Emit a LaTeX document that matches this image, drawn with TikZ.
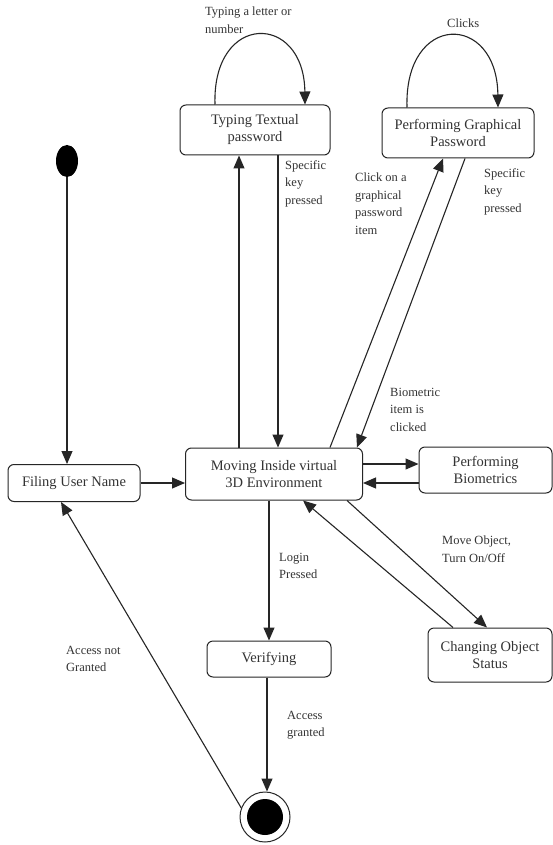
\documentclass[tikz,border=0pt]{standalone}
\usepackage{fontspec}
\setmainfont{Liberation Serif}
\usetikzlibrary{arrows.meta,calc,shapes.geometric}
\begin{document}
\begin{tikzpicture}[x=1pt,y=-1pt,
  state/.style={draw=black!85, line width=1pt, rounded corners=6pt, align=center,
     inner sep=0pt, font=\fontsize{14.5}{17}\selectfont, text=black!80},
  lbl/.style={anchor=north west, align=left, inner sep=0pt,
     font=\fontsize{12.5}{17.5}\selectfont, text=black!80},
  arr/.style={draw=black!85, line width=1.1pt, -{Triangle[length=13pt,width=11pt]}}]
\useasboundingbox (0,0) rectangle (553,845);
\fill[white] (0,0) rectangle (553,845);

% states
\node[fill=black, ellipse, minimum width=22pt, minimum height=32pt, inner sep=0pt, draw=none] (init) at (67,161) {};
\node[state, minimum width=150pt, minimum height=50pt] (typing) at (255,130) {Typing Textual\\password};
\node[state, minimum width=152pt, minimum height=50pt] (graph) at (458,133) {Performing Graphical\\Password};
\node[state, minimum width=132pt, minimum height=37pt] (filing) at (74,483) {Filing User Name};
\node[state, minimum width=177pt, minimum height=52pt] (moving) at (274,474) {Moving Inside virtual\\3D Environment};
\node[state, minimum width=133pt, minimum height=46pt] (bio) at (485.5,470) {Performing\\Biometrics};
\node[state, minimum width=124pt, minimum height=36pt] (verif) at (269,659) {Verifying};
\node[state, minimum width=124pt, minimum height=54pt] (change) at (490,655) {Changing Object\\Status};
\node[circle, draw=black!85, line width=1pt, minimum size=50pt, inner sep=0pt] (final) at (265,817) {};
\node[circle, fill=black, minimum size=36pt, inner sep=0pt] (finalin) at (final.center) {};

% self loops
\draw[arr] (typing.north -| 215,0) .. controls (212,12) and (304,12) .. (typing.north -| 305,0);
\draw[arr] (graph.north -| 407,0) .. controls (404,12) and (497,12) .. (graph.north -| 498,0);

% edges
\draw[arr] (init.south) -- (filing.north -| init.south);
\draw[arr] (filing.east) -- (moving.west |- filing.east);
\draw[arr] (moving.north -| 239,0) -- (typing.south -| 239,0);
\draw[arr] (typing.south -| 278,0) -- (moving.north -| 278,0);
\draw[arr] (moving.north -| 330,0) -- (graph.south -| 443,0);
\draw[arr] (graph.south -| 465,0) -- (moving.north -| 357,0);
\draw[arr] (moving.east |- 0,464) -- (bio.west |- 0,464);
\draw[arr] (bio.west |- 0,483) -- (moving.east |- 0,483);
\draw[arr] (moving.south -| 347,0) -- (change.north -| 487,0);
\draw[arr] (change.north -| 453,0) -- (moving.south -| 303,0);
\draw[arr] (moving.south -| 269,0) -- (verif.north -| 269,0);
\draw[arr] (verif.south -| 267,0) -- (final.north -| 267,0);
\draw[arr] (final.159) -- (filing.south -| 61,0);

% labels
\node[lbl] (l1) at (205,7) {Typing a letter or\\number};
\node[lbl] (l2) at (447,19) {Clicks};
\node[lbl] (l3) at (285,160) {Specific\\key\\pressed};
\node[lbl] (l4) at (355,173) {Click on a\\graphical\\password\\item};
\node[lbl] (l5) at (484,168) {Specific\\key\\pressed};
\node[lbl] (l6) at (390,388) {Biometric\\item is\\clicked};
\node[lbl] (l7) at (442,536) {Move Object,\\Turn On/Off};
\node[lbl] (l8) at (279,553) {Login\\Pressed};
\node[lbl] (l9) at (66,646) {Access not\\Granted};
\node[lbl] (l10) at (287,711) {Access\\granted};
\end{tikzpicture}
\end{document}
